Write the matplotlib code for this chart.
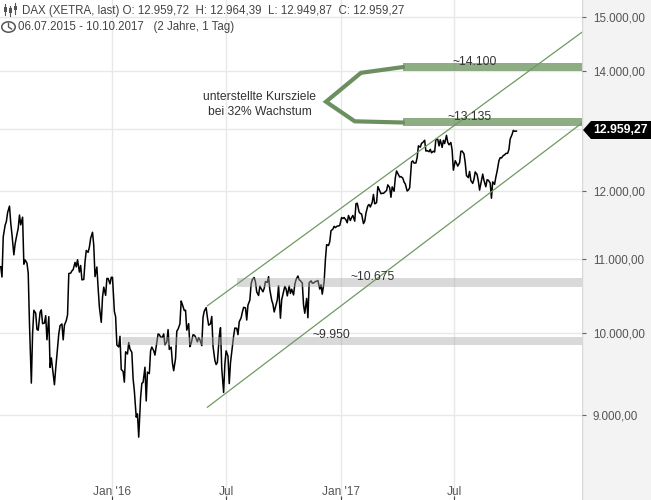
import matplotlib
matplotlib.use('Agg')
import matplotlib.pyplot as plt
import matplotlib.dates as mdates
from matplotlib.patches import Polygon, Rectangle, Circle
from matplotlib.lines import Line2D
from matplotlib.ticker import NullLocator, FixedLocator, FixedFormatter
import datetime as dt

plt.rcParams['font.family'] = ['Liberation Sans', 'DejaVu Sans']

# ---------------- data ----------------
start = dt.date(2015, 7, 6)   # Monday of first week; values at Mon / Wed / Fri
closes = [
    # 2015
    10890, 10747, 11316,  11484, 11540, 11674,  11770, 11520, 11347,  11057, 11212, 11308,
    11443, 11636, 11490,  11604, 10925, 10985,  10940, 10800, 10124,  9380, 9997, 10298,
    10259, 10048, 10038,  10272, 10303, 10123,  10131, 10227, 9916,   10214, 9570, 9688,
    9483, 9360, 9553,     9814, 9994, 10096,    10119, 9915, 10104,   10164, 10238, 10795,
    10801, 10832, 10850,  10950, 10887, 10988,  10815, 10907, 10708,  10713, 10960, 11119,
    11092, 11169, 11293,  11382, 11190, 10752,  10886, 10592, 10340,  10140, 10470, 10608,
    10497, 10727, 10727,  10653, 10743, 10743,
    # 2016
    10283, 10214, 9849,   9825, 9960, 9545,     9521, 9391, 9764,     9737, 9881, 9798,
    9757, 9434, 9286,     8979, 9017, 8752,     9206, 9377, 9388,     9573, 9167, 9513,
    9495, 9776, 9824,     9778, 9723, 9831,     9990, 9983, 9950,     9948, 9990, 9851,
    9888, 10046, 9794,    9822, 9624, 9530,     9682, 10026, 10051,   10120, 10421, 10373,
    10294, 10299, 10039,  10123, 9829, 9870,    9980, 9975, 9952,     9890, 9943, 9916,
    9842, 10205, 10287,   10333, 10205, 10103,  10121, 10217, 9834,   9657, 9606, 9631,
    9962, 10071, 9557,    9268, 9612, 9776,     9709, 9374, 9629,     9833, 9964, 10066,
    10063, 9981, 10147,   10199, 10274, 10337,  10330, 10170, 10367,  10432, 10651, 10713,
    10740, 10679, 10544,  10495, 10623, 10588,  10545, 10593, 10684,  10672, 10752, 10573,
    10432, 10379, 10276,  10373, 10437, 10627,  10194, 10438, 10511,  10619, 10585, 10490,
    10625, 10523, 10580,  10503, 10645, 10711,  10761, 10709, 10696,  10665, 10370, 10259,
    10456, 10200, 10668,  10694, 10663, 10664,  10685, 10689, 10699,  10582, 10640, 10513,
    10684, 10986, 11203,  11190, 11244, 11404,  11427, 11469, 11450,  11473, 11474, 11481,
    # 2017
    11599, 11584, 11599,  11563, 11521, 11629,  11555, 11599, 11630,  11545, 11806, 11814,
    11681, 11659, 11651,  11509, 11543, 11666,  11774, 11794, 11757,  11827, 11947, 11804,
    11822, 12067, 12027,  11958, 11967, 11963,  11990, 12009, 12095,  12052, 11904, 12064,
    11996, 12203, 12313,  12257, 12217, 12225,  12200, 12139, 12109,  12000, 12016, 12049,
    12455, 12472, 12438,  12439, 12527, 12716,  12694, 12757, 12770,  12807, 12631, 12638,
    12620, 12659, 12602,  12629, 12615, 12822,  12823, 12714, 12815,  12690, 12806, 12753,
    12888, 12774, 12733,  12770, 12647, 12325,  12475, 12437, 12389,  12445, 12627, 12631,
    12587, 12443, 12240,  12208, 12305, 12162,  12118, 12181, 12298,  12257, 12154, 12014,
    12165, 12263, 12165,  12066, 12174, 12168,  12123, 11890, 12142,  12102, 12214, 12304,
    12475, 12524, 12519,  12559, 12569, 12592,  12595, 12657, 12828,  12902, 12970, 12956,
    12959,
]
dates = [start + dt.timedelta(days=7 * (i // 3) + 2 * (i % 3)) for i in range(len(closes))]

ytick_vals = [9000, 10000, 11000, 12000, 14000, 15000]
ytick_labels = ['9.000,00', '10.000,00', '11.000,00', '12.000,00', '14.000,00', '15.000,00']
extra_grid = [13000]
xtick_dates = [dt.date(2016, 1, 1), dt.date(2016, 7, 1), dt.date(2017, 1, 1), dt.date(2017, 7, 1)]
xtick_labels = ["Jan '16", 'Jul', "Jan '17", 'Jul']

support_starts = [dt.date(2016, 7, 19), dt.date(2016, 1, 17)]
support_low = [10614, 9846]
support_high = [10737, 9955]
support_labels = ['~10.675', '~9.950']
support_label_dates = [dt.date(2017, 1, 17), dt.date(2016, 11, 17)]
support_label_y = [10751, 9977]

target_starts = [dt.date(2017, 4, 10), dt.date(2017, 4, 10)]
target_low = [13998, 13045]
target_high = [14148, 13184]
target_labels = ['~14.100', '~13.135']
target_label_dates = [dt.date(2017, 6, 29), dt.date(2017, 6, 20)]
target_label_y = [14160, 13197]

channel_dates = [dt.date(2016, 6, 1), dt.date(2018, 1, 22)]
channel_upper = [10358, 14710]
channel_lower = [9094, 13094]

last_price = 12959.27
header1 = 'DAX (XETRA, last) O: 12.959,72  H: 12.964,39  L: 12.949,87  C: 12.959,27'
header2 = '06.07.2015 - 10.10.2017   (2 Jahre, 1 Tag)'
note_text = 'unterstellte Kursziele\nbei 32% Wachstum'

# ---------------- figure ----------------
W, H = 651, 500
fig = plt.figure(figsize=(W / 100, H / 100), dpi=100)
axw = 582 / W
ax = fig.add_axes([0, 0, axw, 1])

# right panel
fig.patches.append(Rectangle((axw, 0), 1 - axw, 1, transform=fig.transFigure,
                             facecolor='#f3f3f3', edgecolor='none', zorder=-5))
fig.add_artist(Line2D([axw, axw], [0, 1], transform=fig.transFigure, color='#d8d8d8', lw=1, zorder=-4))

x0 = mdates.date2num(start) - 1.2
x1 = x0 + 582 / 0.6243
ax.set_xlim(x0, x1)
ax.set_yscale('log')
ax.set_ylim(8074, 15331)
for s in ax.spines.values():
    s.set_visible(False)

# grid / ticks
ax.yaxis.set_major_locator(FixedLocator(ytick_vals))
ax.yaxis.set_major_formatter(FixedFormatter(ytick_labels))
ax.yaxis.set_minor_locator(NullLocator())
ax.yaxis.tick_right()
ax.tick_params(axis='y', direction='out', length=2.6, width=0.8, color='#666666',
               pad=5.2, labelsize=8.4, labelcolor='#555555')
xt = [mdates.date2num(d) for d in xtick_dates]
ax.xaxis.set_major_locator(FixedLocator(xt))
ax.xaxis.set_minor_locator(NullLocator())
ax.tick_params(axis='x', direction='in', length=3, color='#444444', labelbottom=False)
ax.grid(True, color='#e8e8e8', lw=1, zorder=0)
for g in extra_grid:
    ax.axhline(g, color='#e8e8e8', lw=1, zorder=0)
for d, lab in zip(xtick_dates, xtick_labels):
    ax.text(mdates.date2num(d), 8 / H, lab, transform=ax.get_xaxis_transform(),
            ha='center', va='center', fontsize=8.6, color='#555555')

# price line
ax.plot(dates, closes, color='black', lw=1.1, zorder=3)

# support bands (translucent grey)
for s, lo, hi in zip(support_starts, support_low, support_high):
    ax.fill_between([mdates.date2num(s), x1], lo, hi, color='#a8a8a8', alpha=0.43, lw=0, zorder=4)
for d, y, lab in zip(support_label_dates, support_label_y, support_labels):
    ax.text(mdates.date2num(d), y, lab, ha='left', va='center', fontsize=8.7, color='#333333', zorder=6)

# channel lines
ax.plot(channel_dates, channel_upper, color='#6f9a60', lw=0.9, zorder=5)
ax.plot(channel_dates, channel_lower, color='#6f9a60', lw=0.9, zorder=5)

# target bands (green)
for s, lo, hi in zip(target_starts, target_low, target_high):
    ax.fill_between([mdates.date2num(s), x1], lo, hi, color='#5f8a50', alpha=0.7, lw=0, zorder=4)
for d, y, lab in zip(target_label_dates, target_label_y, target_labels):
    ax.text(mdates.date2num(d), y, lab, ha='left', va='center', fontsize=8.7, color='#333333', zorder=6)

# bracket + note
bx = [mdates.date2num(dt.date(2017, 4, 10)), mdates.date2num(dt.date(2017, 2, 2)),
      mdates.date2num(dt.date(2016, 12, 8)), mdates.date2num(dt.date(2017, 1, 23)),
      mdates.date2num(dt.date(2017, 4, 10))]
by = [14067, 13964, 13456, 13122, 13102]
ax.plot(bx, by, color='#6b8f5e', lw=3, solid_joinstyle='miter', zorder=6)
ax.text(mdates.date2num(dt.date(2016, 8, 24)), 13405, note_text, ha='center', va='center',
        fontsize=8.7, color='#333333', linespacing=1.35, zorder=6)

# last price marker
def fx(px):
    return px / W
def fy(py):
    return 1 - py / H
poly = Polygon([(fx(583), fy(130)), (fx(591), fy(121)), (fx(651), fy(121)),
                (fx(651), fy(139)), (fx(591), fy(139))], closed=True,
               transform=fig.transFigure, facecolor='black', edgecolor='none', zorder=10)
fig.add_artist(poly)
fig.text(fx(621), fy(130), f"{last_price:,.2f}".replace(',', 'X').replace('.', ',').replace('X', '.'),
         ha='center', va='center', fontsize=8.8, fontweight='bold', color='white', zorder=11)

# header texts
fig.text(fx(22), fy(11), header1, ha='left', va='center', fontsize=8.3, color='#444444')
fig.text(fx(18), fy(27), header2, ha='left', va='center', fontsize=8.3, color='#444444')
# candlestick icon
for cx, top, bot, btop, bbot in [(5, 4, 15, 7, 12), (10, 6, 16, 8, 13), (15, 3, 14, 6, 10)]:
    fig.add_artist(Line2D([fx(cx), fx(cx)], [fy(top), fy(bot)], transform=fig.transFigure,
                          color='#555555', lw=0.8))
    fig.add_artist(Rectangle((fx(cx - 1.5), fy(bbot)), 3 / W, (bbot - btop) / H,
                             transform=fig.transFigure, facecolor='#555555', edgecolor='none'))
# clock icon
fig.add_artist(Circle((fx(8.5), fy(27)), 5.2 / H, transform=fig.transFigure, fill=False,
                      edgecolor='#555555', lw=1.1))
fig.add_artist(Line2D([fx(8.5), fx(8.5), fx(11.5)], [fy(23.5), fy(27), fy(29)],
                      transform=fig.transFigure, color='#555555', lw=1))

fig.savefig('out.png', dpi=100)
